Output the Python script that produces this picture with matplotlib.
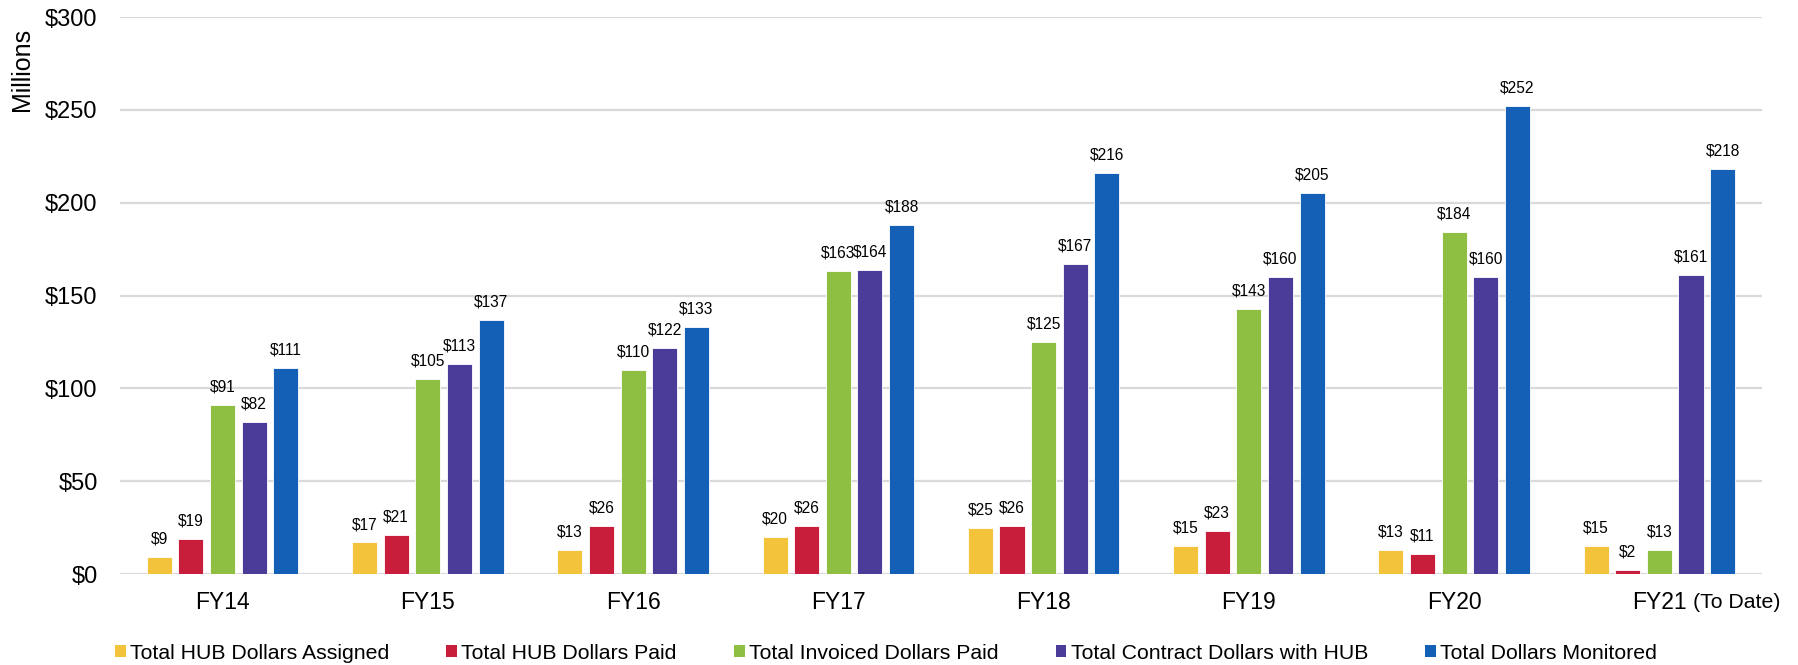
import numpy as np
import matplotlib.pyplot as plt
from matplotlib.patches import Patch
from matplotlib.transforms import blended_transform_factory

plt.rcParams["font.family"] = ["Liberation Sans", "DejaVu Sans"]

years = ["FY14", "FY15", "FY16", "FY17", "FY18", "FY19", "FY20", "FY21"]
series_names = [
    "Total HUB Dollars Assigned",
    "Total HUB Dollars Paid",
    "Total Invoiced Dollars Paid",
    "Total Contract Dollars with HUB",
    "Total Dollars Monitored",
]
hub_assigned = [9, 17, 13, 20, 25, 15, 13, 15]
hub_paid = [19, 21, 26, 26, 26, 23, 11, 2]
invoiced_paid = [91, 105, 110, 163, 125, 143, 184, 13]
contract_hub = [82, 113, 122, 164, 167, 160, 160, 161]
monitored = [111, 137, 133, 188, 216, 205, 252, 218]
colors = ["#F4C33C", "#C81E3C", "#8FBF42", "#4B3C9A", "#1460B7"]
yticks = [0, 50, 100, 150, 200, 250, 300]

all_series = [hub_assigned, hub_paid, invoiced_paid, contract_hub, monitored]

fig = plt.figure(figsize=(17.98, 6.65), dpi=100)
ax = fig.add_axes([0.0667, 0.1368, 0.9133, 0.8376])

x = np.arange(len(years))
step = 0.154
width = 0.122
for i, (vals, col) in enumerate(zip(all_series, colors)):
    pos = x + (i - 2) * step
    bars = ax.bar(pos, vals, width=width, color=col, edgecolor="#ffffff",
                  linewidth=0.6, zorder=3)
    for b, v in zip(bars, vals):
        ax.annotate(f"${v}", (b.get_x() + b.get_width() / 2, v),
                    xytext=(0, 7.5), textcoords="offset points",
                    ha="center", va="bottom", fontsize=11.2, zorder=4)

ax.set_xlim(-0.5, len(years) - 0.5)
ax.set_ylim(0, 300)
ax.set_yticks(yticks)
ax.set_yticklabels([f"${t}" for t in yticks], fontsize=17)
ax.set_xticks(x)
ax.set_xticklabels(years, fontsize=16.5)
ax.tick_params(axis="both", length=0)
ax.tick_params(axis="y", pad=16)
ax.tick_params(axis="x", pad=12)
ax.grid(axis="y", color="#D9D9D9", linewidth=1.6, zorder=0)
for s in ax.spines.values():
    s.set_visible(False)

# smaller suffix after the last tick label
trans = blended_transform_factory(ax.transData, ax.transAxes)
ax.text(7.166, -0.0503, "(To Date)", transform=trans, ha="left", va="center",
        fontsize=15.3)

fig.text(22 / 1798, 1 - 69 / 665, "Millions", rotation=90, ha="center",
         va="center", fontsize=18)

handles = [Patch(facecolor=c, edgecolor="none") for c in colors]
fig.legend(handles, series_names, loc="center", ncol=5,
           bbox_to_anchor=(886 / 1798, 0.018), frameon=False, fontsize=15.3,
           handlelength=0.5, handleheight=0.5, handletextpad=0.2,
           columnspacing=2.7, borderaxespad=0, borderpad=0)

fig.savefig("out.png", dpi=100)
